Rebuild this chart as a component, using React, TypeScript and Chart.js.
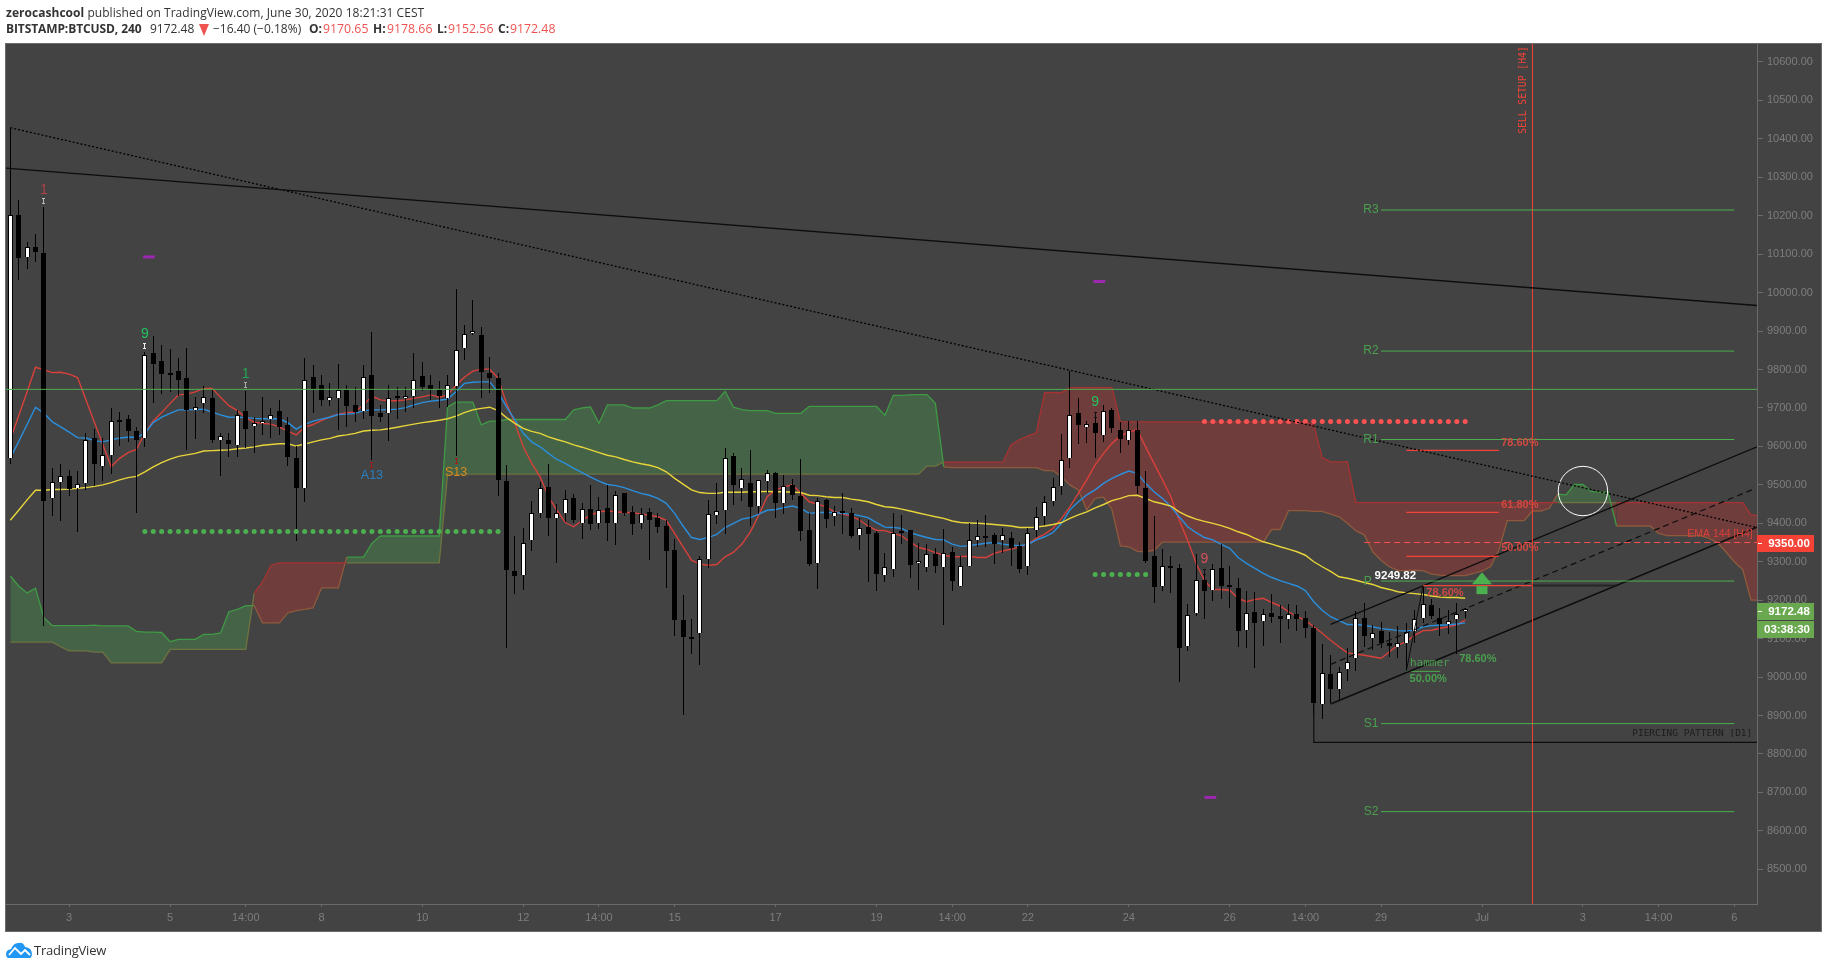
import React, { useEffect, useRef } from "react";
import { Chart, registerables } from "chart.js";

Chart.register(...registerables);

const opens = [
  9569,10202,10094,10119,10102,9465,9508,9522,9491,9504,
  9622,9550,9577,9668,9671,9639,9623,9843,9821,9790,
  9795,9777,9694,9712,9727,9616,9618,9603,9691,9652,
  9662,9672,9691,9655,9569,9493,9780,9759,9721,9727,
  9747,9708,9693,9785,9687,9686,9730,9725,9730,9782,
  9759,9746,9727,9756,9855,9894,9890,9792,9778,9510,
  9276,9265,9356,9426,9494,9415,9428,9466,9402,9437,
  9400,9440,9402,9479,9429,9402,9429,9415,9393,9330,
  9148,9103,9114,9306,9421,9435,9574,9493,9504,9444,
  9509,9531,9454,9500,9471,9383,9296,9460,9420,9432,
  9427,9370,9390,9374,9265,9280,9377,9382,9296,9287,
  9320,9287,9325,9238,9290,9356,9364,9369,9356,9361,
  9341,9288,9382,9418,9457,9497,9569,9686,9650,9660,
  9631,9694,9643,9616,9643,9491,9315,9236,9286,9285,
  9082,9166,9252,9226,9283,9237,9233,9122,9169,9145,
  9166,9159,9152,9163,9153,9127,8929,9008,8970,9020,
  9049,9155,9101,9120,9089,9079,9088,9120,9155,9187,
  9155,9137,9150,9170.65,
];
const closes = [
  10202,10091,10118,10107,9459,9508,9524,9490,9503,9616,
  9555,9577,9667,9664,9641,9617,9839,9815,9789,9786,
  9773,9696,9703,9729,9617,9626,9606,9682,9646,9662,
  9667,9682,9651,9573,9493,9774,9749,9721,9729,9748,
  9705,9690,9781,9680,9677,9727,9727,9732,9774,9755,
  9750,9730,9760,9852,9893,9899,9794,9779,9513,9279,
  9264,9348,9426,9491,9415,9428,9462,9408,9436,9399,
  9434,9402,9473,9428,9399,9423,9408,9391,9329,9149,
  9105,9100,9306,9423,9433,9569,9500,9514,9443,9512,
  9530,9454,9498,9474,9381,9295,9459,9411,9430,9427,
  9367,9389,9373,9269,9287,9375,9375,9292,9303,9319,
  9290,9324,9251,9290,9356,9368,9362,9347,9369,9335,
  9282,9376,9417,9456,9495,9566,9681,9655,9659,9636,
  9693,9649,9620,9644,9498,9302,9235,9290,9284,9076,
  9162,9252,9225,9282,9238,9234,9121,9168,9141,9165,
  9157,9152,9163,9152,9128,8933,9010,8970,9014,9040,
  9154,9108,9115,9089,9082,9088,9118,9150,9189,9160,
  9138,9145,9163,9172.48,
];
const highs = [
  10429,10241,10132,10153,10224,9543,9554,9540,9536,9634,
  9645,9623,9699,9689,9681,9651,9845,9887,9865,9853,
  9829,9855,9728,9758,9747,9635,9634,9696,9745,9676,
  9728,9701,9721,9677,9601,9829,9811,9785,9764,9814,
  9759,9754,9811,9897,9708,9760,9754,9755,9842,9819,
  9786,9769,9786,10009,9916,9981,9910,9832,9790,9552,
  9367,9387,9457,9507,9554,9450,9486,9476,9454,9500,
  9468,9500,9485,9479,9445,9441,9439,9427,9408,9358,
  9213,9150,9315,9461,9504,9595,9582,9545,9592,9512,
  9539,9534,9526,9514,9567,9426,9465,9462,9445,9478,
  9439,9415,9408,9381,9322,9428,9421,9382,9348,9346,
  9335,9384,9339,9315,9402,9408,9421,9376,9387,9377,
  9352,9387,9443,9472,9517,9632,9797,9725,9667,9677,
  9708,9699,9664,9667,9667,9536,9419,9332,9315,9293,
  9190,9319,9280,9293,9345,9289,9259,9224,9222,9176,
  9216,9187,9190,9187,9172,9135,9086,9057,9027,9075,
  9172,9192,9135,9144,9118,9133,9140,9174,9238,9202,
  9179,9174,9192,9178.66,
];
const lows = [
  9554,10033,10062,10080,9133,9420,9407,9472,9378,9486,
  9498,9510,9529,9602,9612,9428,9599,9713,9736,9742,
  9731,9591,9620,9688,9610,9524,9573,9573,9596,9584,
  9630,9623,9630,9550,9355,9456,9688,9706,9705,9643,
  9651,9663,9672,9565,9663,9615,9672,9690,9700,9745,
  9721,9701,9703,9575,9825,9890,9727,9740,9472,9076,
  9217,9226,9329,9415,9368,9298,9404,9402,9359,9382,
  9385,9355,9343,9420,9369,9385,9304,9376,9232,9107,
  8902,9061,9032,9285,9398,9373,9448,9459,9394,9424,
  9480,9415,9425,9461,9355,9290,9230,9389,9393,9373,
  9362,9330,9247,9225,9248,9260,9347,9258,9227,9274,
  9270,9136,9225,9235,9287,9339,9339,9293,9322,9290,
  9270,9265,9365,9395,9446,9474,9545,9606,9610,9569,
  9611,9636,9584,9604,9476,9296,9193,9225,9219,8988,
  9069,9159,9151,9199,9203,9180,9079,9076,9024,9082,
  9140,9089,9124,9120,9101,8900,8892,8932,8938,8990,
  9017,9077,9070,9075,9053,9050,9016,9089,9141,9151,
  9107,9112,9059,9152.56,
];
const emaRed = [
  9617,9680,9742,9806,9799,9792,9793,9788,9779,9721,
  9663,9605,9547,9569,9584,9592,9634,9666,9688,9712,
  9734,9736,9742,9751,9751,9728,9706,9693,9675,9663,
  9660,9658,9651,9640,9630,9650,9657,9667,9677,9684,
  9688,9690,9708,9731,9721,9719,9719,9721,9725,9729,
  9734,9728,9734,9759,9780,9796,9801,9801,9778,9712,
  9660,9599,9556,9521,9469,9434,9402,9391,9408,9421,
  9430,9432,9430,9428,9428,9424,9421,9417,9408,9374,
  9339,9304,9294,9291,9293,9313,9325,9346,9378,9421,
  9469,9487,9495,9500,9478,9456,9450,9443,9430,9424,
  9419,9408,9393,9382,9381,9374,9367,9352,9337,9332,
  9324,9317,9313,9313,9315,9311,9311,9322,9328,9333,
  9339,9346,9361,9372,9387,9413,9443,9478,9513,9552,
  9582,9608,9627,9638,9643,9599,9556,9513,9469,9408,
  9356,9296,9251,9228,9228,9226,9205,9196,9202,9205,
  9194,9185,9170,9157,9148,9131,9114,9096,9079,9063,
  9060,9057,9053,9049,9066,9083,9092,9109,9121,9122,
  9127,9131,9136,9148,
];
const emaBlue = [
  9569,9613,9657,9702,9686,9664,9651,9637,9623,9622,
  9615,9612,9617,9622,9624,9624,9634,9662,9676,9686,
  9695,9695,9696,9697,9689,9682,9676,9676,9675,9673,
  9672,9672,9672,9662,9645,9657,9666,9671,9676,9683,
  9684,9686,9693,9695,9695,9696,9697,9701,9708,9714,
  9718,9720,9723,9742,9764,9767,9768,9768,9742,9703,
  9669,9634,9612,9599,9582,9566,9556,9543,9532,9520,
  9510,9501,9498,9493,9485,9478,9473,9465,9452,9426,
  9393,9363,9358,9363,9371,9389,9400,9411,9415,9424,
  9434,9436,9441,9445,9439,9426,9428,9428,9428,9426,
  9424,9420,9415,9402,9390,9389,9387,9376,9369,9363,
  9358,9357,9346,9340,9342,9345,9348,9350,9346,9343,
  9342,9345,9357,9365,9376,9400,9435,9456,9474,9487,
  9504,9517,9527,9536,9530,9504,9482,9465,9443,9417,
  9391,9376,9363,9357,9345,9335,9311,9296,9283,9270,
  9259,9251,9244,9237,9225,9196,9174,9157,9147,9137,
  9137,9135,9131,9126,9124,9121,9120,9122,9131,9134,
  9135,9136,9138,9141,
];
const emaYellow = [
  9408,9434,9461,9486,9486,9488,9488,9489,9491,9493,
  9496,9500,9506,9513,9519,9522,9534,9547,9558,9567,
  9574,9578,9582,9588,9589,9590,9591,9594,9596,9599,
  9603,9605,9607,9607,9601,9606,9612,9617,9621,9627,
  9630,9634,9640,9642,9643,9646,9650,9654,9658,9662,
  9665,9668,9672,9679,9688,9695,9699,9702,9693,9675,
  9660,9647,9639,9634,9625,9618,9612,9604,9598,9591,
  9584,9577,9573,9566,9560,9555,9551,9545,9534,9517,
  9502,9487,9480,9478,9478,9481,9481,9481,9482,9482,
  9483,9482,9482,9481,9480,9473,9472,9469,9467,9467,
  9463,9460,9456,9449,9443,9441,9437,9432,9427,9422,
  9417,9413,9406,9402,9401,9400,9399,9397,9395,9393,
  9389,9389,9390,9393,9397,9402,9413,9422,9430,9440,
  9449,9459,9465,9472,9473,9465,9456,9451,9445,9430,
  9419,9411,9405,9400,9394,9387,9378,9371,9361,9352,
  9346,9339,9333,9326,9317,9300,9287,9275,9261,9257,
  9252,9246,9241,9233,9228,9222,9219,9217,9215,9211,
  9208,9207,9207,9205,
];
const spanA = [
  9263,9237,9219,9231,9154,9134,9134,9134,9134,9134,
  9135,9133,9133,9133,9133,9119,9117,9117,9116,9092,
  9098,9098,9098,9111,9111,9115,9170,9176,9186,9186,
  9141,9141,9141,9167,9173,9176,9180,9232,9232,9232,
  9312,9312,9312,9348,9367,9367,9367,9367,9367,9367,
  9367,9367,9703,9715,9715,9715,9656,9666,9666,9670,
  9670,9670,9670,9670,9670,9670,9670,9695,9700,9703,
  9660,9708,9708,9708,9700,9700,9700,9708,9719,9719,
  9719,9719,9719,9719,9719,9743,9702,9696,9693,9693,
  9693,9686,9686,9686,9686,9704,9704,9704,9704,9704,
  9704,9704,9704,9704,9681,9733,9733,9734,9735,9735,
  9712,9547,9545,9545,9545,9545,9545,9545,9545,9545,
  9545,9545,9545,9537,9537,9521,9500,9487,9435,9465,
  9468,9436,9341,9339,9327,9326,9330,9351,9351,9351,
  9351,9351,9351,9351,9351,9351,9351,9351,9351,9351,
  9384,9384,9433,9433,9433,9431,9431,9424,9417,9400,
  9381,9370,9326,9304,9287,9277,9277,9278,9277,9268,
  9265,9264,9264,9264,9270,9276,9287,9330,9407,9407,
  9407,9432,9432,9439,9476,9474,9501,9501,9483,9481,
  9481,9393,9393,9393,9393,9393,9374,9368,9368,9368,
  9368,9368,9361,9350,9326,9300,9280,9200,9200,
];
const spanB = [
  9091,9091,9091,9091,9091,9091,9079,9068,9068,9068,
  9065,9065,9037,9037,9037,9037,9037,9037,9037,9072,
  9072,9072,9072,9072,9072,9072,9072,9072,9072,9218,
  9248,9291,9297,9297,9297,9297,9297,9297,9297,9297,
  9297,9297,9297,9297,9297,9297,9297,9297,9297,9297,
  9297,9297,9528,9528,9528,9528,9528,9528,9528,9528,
  9528,9528,9528,9528,9528,9528,9528,9528,9528,9528,
  9528,9528,9528,9528,9528,9528,9528,9528,9528,9528,
  9528,9528,9528,9528,9528,9528,9528,9528,9528,9528,
  9528,9528,9528,9528,9528,9528,9528,9528,9528,9528,
  9528,9528,9528,9528,9528,9528,9528,9528,9528,9549,
  9549,9559,9559,9559,9559,9559,9559,9559,9559,9604,
  9618,9627,9636,9740,9740,9740,9753,9753,9753,9753,
  9753,9753,9664,9664,9664,9664,9664,9664,9664,9664,
  9664,9664,9664,9664,9664,9664,9664,9664,9664,9664,
  9664,9664,9664,9664,9664,9656,9571,9560,9560,9560,
  9454,9454,9454,9454,9454,9454,9454,9454,9454,9454,
  9454,9454,9454,9454,9454,9454,9454,9454,9454,9454,
  9454,9454,9454,9454,9454,9454,9454,9454,9454,9454,
  9454,9454,9454,9454,9454,9454,9454,9454,9454,9454,
  9454,9454,9454,9454,9454,9454,9454,9422,9420,
];
const priceTicks = [8500,8600,8700,8800,8900,9000,9100,9200,9300,9400,9500,9600,9700,9800,9900,10000,10100,10200,10300,10400,10500,10600];
const timeTickIndex = [7,19,28,37,49,61,70,79,91,103,112,121,133,145,154,163,175,187,196,205];
const timeTickLabels = ["3","5","14:00","8","10","12","14:00","15","17","19","14:00","22","24","26","14:00","29","Jul","3","14:00","6"];

const X_MIN = -0.51;
const X_MAX = 207.7;
const pivotLevels = [10215,9848,9618,9249.82,8879,8650];
const fibLevels = [9590,9428.5,9314];
const greenDotsA = { from: 16, to: 58, price: 9379 };
const greenDotsB = { from: 129, to: 135, price: 9267 };
const redDots = { from: 142, to: 173, price: 9665 };
const purpleDashes = [[16.5,10093],[129.5,10029],[142.7,8687]];

const labels: any[] = [
  ["1",4,10267,"#b0424a","14px 'Liberation Sans'"],
  ["9",16,9892,"#22c35e","14px 'Liberation Sans'"],
  ["1",28,9788,"#22a854","14px 'Liberation Sans'"],
  ["A13",43,9523,"#2a7fc0","12.5px 'Liberation Sans'"],
  ["S13",53,9533,"#d88a1c","12.5px 'Liberation Sans'"],
  ["9",129,9716,"#22c35e","14px 'Liberation Sans'"],
  ["9",142,9307,"#d9505a","14px 'Liberation Sans'"],
  ["R3",161.8,10215,"#4aa04e","12px 'Liberation Sans'"],
  ["R2",161.8,9848,"#4aa04e","12px 'Liberation Sans'"],
  ["R1",161.8,9617,"#4aa04e","12px 'Liberation Sans'"],
  ["P",161.4,9248,"#4aa04e","12px 'Liberation Sans'"],
  ["S1",161.8,8878,"#4aa04e","12px 'Liberation Sans'"],
  ["S2",161.8,8650,"#4aa04e","12px 'Liberation Sans'"],
  ["9249.82",164.7,9264,"#ffffff","bold 11.5px 'Liberation Sans'"],
  ["78.60%",179.5,9610,"#d04a42","bold 11px 'Liberation Sans'"],
  ["61.80%",179.5,9447.5,"#d04a42","bold 11px 'Liberation Sans'"],
  ["50.00%",179.5,9336,"#d04a42","bold 11px 'Liberation Sans'"],
  ["78.60%",170.6,9218,"#d04a42","bold 11px 'Liberation Sans'"],
  ["hammer",168.8,9037,"#4aa04e","11px 'DejaVu Sans Mono'"],
  ["50.00%",168.6,8995,"#4aa04e","bold 11px 'Liberation Sans'"],
  ["78.60%",174.5,9047,"#4aa04e","bold 11px 'Liberation Sans'"],
  ["EMA 144 [H4]",203.3,9373,"#d9403a","10.5px 'Liberation Sans'"],
  ["PIERCING PATTERN [D1]",200,8854,"#1c1c1c","9.5px 'DejaVu Sans Mono'"],
];
const marks: any[] = [
  [4,10238,"#bbbbbb"],[16,9861,"#eeeeee"],[28,9760,"#aaaaaa"],[43,9552,"#a01c1c"],
  [53,9562,"#a01c1c"],[129,9682,"#111111"],[142,9273,"#111111"],
];
const priceBoxes: any[] = [["9350.00",9350,"#f44336"],["9172.48",9172.48,"#6aa84f"]];
const countdown = "03:38:30";

const pts = (arr: number[]) => arr.map((y, x) => ({ x, y }));
const seg = (points: number[][], color: string, width = 1, dash: number[] = []) => ({
  type: "line",
  data: points.map(([x, y]) => ({ x, y })),
  borderColor: color,
  borderWidth: width,
  borderDash: dash,
  pointRadius: 0,
  tension: 0,
  fill: false,
  order: 1,
});
const dots = (d: any, color: string) => {
  const data: any[] = [];
  for (let x = d.from; x <= d.to; x++) data.push({ x, y: d.price });
  return {
    type: "line", data, showLine: false, pointRadius: 2.5, pointBorderWidth: 0,
    pointBackgroundColor: color, fill: false, order: 1,
  };
};
const ema = (arr: number[], color: string) => ({
  type: "line", data: pts(arr), borderColor: color, borderWidth: 1.4, pointRadius: 0, tension: 0, fill: false, order: 50,
});

const framePlugin = {
  id: "frame",
  beforeDraw(chart: any) {
    const { ctx } = chart;
    ctx.save();
    ctx.fillStyle = "#434343";
    ctx.fillRect(6, 44, 1816, 887);
    ctx.strokeStyle = "#6b6b6b";
    ctx.lineWidth = 1;
    ctx.strokeRect(5.5, 43.5, 1816, 888);
    ctx.restore();
  },
  beforeDatasetsDraw(chart: any) {
    chart.data.datasets.forEach((ds: any, i: number) => {
      if (!ds.candle) return;
      chart.getDatasetMeta(i).data.forEach((el: any) => {
        el.x = Math.floor(el.x) + 0.5;
        el.y = Math.round(el.y);
        el.base = Math.round(el.base);
      });
    });
  },
  afterDatasetsDraw(chart: any) {
    const { ctx, scales: { x, y } } = chart;
    ctx.save();
    ctx.textAlign = "center";
    ctx.textBaseline = "middle";
    labels.forEach(([t, i, p, c, f]) => {
      ctx.font = f;
      ctx.fillStyle = c;
      ctx.fillText(t, x.getPixelForValue(i), y.getPixelForValue(p));
    });
    marks.forEach(([i, p, c]) => {
      const px = Math.floor(x.getPixelForValue(i)) + 0.5;
      const py = Math.round(y.getPixelForValue(p));
      ctx.strokeStyle = c;
      ctx.lineWidth = 1;
      ctx.beginPath();
      ctx.moveTo(px, py - 3); ctx.lineTo(px, py + 3);
      ctx.moveTo(px - 1.5, py - 2.5); ctx.lineTo(px + 1.5, py - 2.5);
      ctx.moveTo(px - 1.5, py + 2.5); ctx.lineTo(px + 1.5, py + 2.5);
      ctx.stroke();
    });
    ctx.save();
    ctx.translate(x.getPixelForValue(179.9), y.getPixelForValue(10527));
    ctx.rotate(-Math.PI / 2);
    ctx.font = "9.7px 'DejaVu Sans Mono'";
    ctx.fillStyle = "#f44336";
    ctx.fillText("SELL SETUP [H4]", 0, 0);
    ctx.restore();
    const ax = x.getPixelForValue(175);
    const ay = y.getPixelForValue(9273);
    ctx.fillStyle = "#4caf50";
    ctx.beginPath();
    ctx.moveTo(ax, ay); ctx.lineTo(ax + 10, ay + 12); ctx.lineTo(ax - 10, ay + 12); ctx.closePath();
    ctx.fill();
    ctx.fillRect(ax - 5.5, ay + 14, 11, 8);
    ctx.restore();
  },
  afterDraw(chart: any) {
    const { ctx, scales: { y } } = chart;
    ctx.save();
    ctx.textAlign = "center";
    ctx.textBaseline = "middle";
    ctx.font = "bold 11.5px 'Liberation Sans'";
    priceBoxes.forEach(([t, p, c]) => {
      const py = Math.round(y.getPixelForValue(p));
      ctx.fillStyle = c;
      ctx.fillRect(1757, py - 8, 57, 17);
      ctx.fillStyle = "#ffffff";
      ctx.fillText(t, 1789, py + 0.5);
      ctx.fillRect(1758, py, 4, 1);
      if (t === "9172.48") {
        ctx.fillStyle = c;
        ctx.fillRect(1757, py + 10, 57, 17);
        ctx.fillStyle = "#ffffff";
        ctx.fillText(countdown, 1787, py + 18.5);
      }
    });
    ctx.restore();
  },
};

export default function App() {
  const ref = useRef<HTMLCanvasElement>(null);
  useEffect(() => {
    const isUp = (c: any) => spanA[c.p0DataIndex] >= spanB[c.p0DataIndex];
    const datasets: any[] = [
      {
        type: "line", data: pts(spanA), pointRadius: 0, tension: 0, borderWidth: 1.3, borderColor: "#3f9a45",
        segment: { borderColor: (c: any) => (isUp(c) ? "#3f9a45" : "#8f5a3c") },
        fill: { target: 1, above: "rgba(76,175,80,0.3)", below: "rgba(220,50,50,0.3)" },
        order: 100,
      },
      {
        type: "line", data: pts(spanB), pointRadius: 0, tension: 0, borderWidth: 1.3, borderColor: "#a83232",
        segment: { borderColor: (c: any) => (isUp(c) ? "#6f7440" : "#a83232") },
        fill: false, order: 99,
      },
      ema(emaYellow, "#e8d53a"),
      ema(emaBlue, "#2a8fdd"),
      ema(emaRed, "#d8403a"),
      {
        type: "bar", candle: true, data: opens.map((_, i) => ({ x: i, y: [lows[i], highs[i]] })),
        backgroundColor: "#000000", barThickness: 1, grouped: false, inflateAmount: 0, borderWidth: 0, order: 40,
      },
      {
        type: "bar", candle: true, data: opens.map((o, i) => ({ x: i, y: [o, closes[i]] })),
        backgroundColor: opens.map((o, i) => (closes[i] >= o ? "#ffffff" : "#000000")),
        borderColor: "#000000", borderWidth: 1, barThickness: 5, grouped: false, inflateAmount: 0, minBarLength: 2, order: 39,
      },
      seg([[X_MIN, 9748.5], [X_MAX, 9748.5]], "#4caf50"),
      seg([[X_MIN, 10324], [X_MAX, 9966.6]], "#0d0d0d", 1.4),
      seg([[0, 10429], [X_MAX, 9389]], "#000000", 1.3, [2, 2]),
      ...pivotLevels.map((p) => seg([[163, p], [205, p]], "#4caf50")),
      ...fibLevels.map((p) => seg([[166, p], [177, p]], "#f44336", 1.2)),
      seg([[168, 9238], [181, 9238]], "#f44336", 1.2),
      seg([[181, 9238], [191, 9238]], "rgba(25,25,25,0.7)", 2),
      seg([[161, 9350], [X_MAX, 9350]], "#ff5252", 1, [6, 4]),
      seg([[181, 8409], [181, 10647]], "#f44336"),
      seg([[157, 8930], [X_MAX, 9390]], "#0d0d0d", 1.5),
      seg([[157, 9137], [X_MAX, 9599]], "#0d0d0d", 1.3),
      seg([[157, 9033], [207.3, 9489]], "#0d0d0d", 1.2, [6, 4]),
      seg([[166, 9016], [168, 9238]], "#0d0d0d", 1),
      seg([[166, 9015], [170, 9015]], "#4caf50"),
      seg([[155, 8933], [155, 8830], [X_MAX, 8830]], "#0d0d0d", 1.2),
      ...purpleDashes.map(([i, p]) => seg([[i - 0.7, p], [i + 0.7, p]], "#9c27b0", 3)),
      dots(greenDotsA, "#4caf50"),
      dots(greenDotsB, "#4caf50"),
      dots(redDots, "#ff5252"),
      {
        type: "line", data: [{ x: 187, y: 9484 }], showLine: false, pointRadius: 24.7, pointBorderWidth: 1,
        pointBorderColor: "#ffffff", pointBackgroundColor: "transparent", fill: false, order: 1,
      },
    ];
    const chart = new Chart(ref.current as HTMLCanvasElement, {
      type: "line",
      data: { datasets },
      plugins: [framePlugin],
      options: {
        animation: false, responsive: false, devicePixelRatio: 1, events: [],
        layout: { autoPadding: false, padding: { left: 6, right: 6, top: 44, bottom: 37 } },
        plugins: { legend: { display: false }, tooltip: { enabled: false }, title: { display: false } },
        scales: {
          x: {
            type: "linear", min: X_MIN, max: X_MAX, offset: false,
            afterBuildTicks: (s: any) => { s.ticks = timeTickIndex.map((value) => ({ value })); },
            afterFit: (s: any) => { s.height = 27; s.paddingLeft = 0; s.paddingRight = 0; },
            grid: { offset: false, drawOnChartArea: false, drawTicks: true, tickLength: 3, tickColor: "#6b6b6b" },
            border: { color: "#6b6b6b", width: 1 },
            ticks: {
              autoSkip: false, maxRotation: 0, color: "#7e7e7e", padding: 4,
              font: { family: "'Liberation Sans'", size: 11 },
              callback: (v: any) => timeTickLabels[timeTickIndex.indexOf(v)],
            },
          },
          y: {
            type: "linear", position: "right", min: 8409.8, max: 10646.8,
            afterBuildTicks: (s: any) => { s.ticks = priceTicks.map((value) => ({ value })); },
            afterFit: (s: any) => { s.width = 65; s.paddingTop = 0; s.paddingBottom = 0; },
            grid: { drawOnChartArea: false, drawTicks: true, tickLength: 6, tickColor: "#6b6b6b" },
            border: { color: "#6b6b6b", width: 1 },
            ticks: {
              autoSkip: false, color: "#7e7e7e", padding: 4,
              font: { family: "'Liberation Sans'", size: 11 },
              callback: (v: any) => Number(v).toFixed(2),
            },
          },
        },
      },
    } as any);
    return () => chart.destroy();
  }, []);

  const base: React.CSSProperties = {
    position: "absolute", fontFamily: "'Open Sans'", fontSize: 12, lineHeight: "16px",
    color: "#333", whiteSpace: "nowrap",
  };
  const red: React.CSSProperties = { ...base, top: 21, color: "#ef5350", fontSize: 12.3 };
  const dark: React.CSSProperties = { ...base, top: 21 };
  const strong: React.CSSProperties = { ...base, top: 21, fontWeight: 700 };
  return (
    <div style={{ position: "absolute", left: 0, top: 0, width: 1828, height: 968, background: "#fff", overflow: "hidden" }}>
      <canvas ref={ref} width={1828} height={968} style={{ display: "block", width: 1828, height: 968 }} />
      <div style={{ ...base, left: 6, top: 5, letterSpacing: "0.04px" }}>
        <b>zerocashcool</b> published on TradingView.com, June 30, 2020 18:21:31 CEST
      </div>
      <span style={{ ...strong, left: 6, letterSpacing: "-0.1px" }}>BITSTAMP:BTCUSD, 240</span>
      <span style={{ ...dark, left: 150 }}>9172.48</span>
      <svg width={10} height={12} style={{ position: "absolute", left: 199, top: 24 }}><path d="M0 0 H10 L5 12 Z" fill="#ef5350" /></svg>
      <span style={{ ...dark, left: 213 }}>−16.40 (−0.18%)</span>
      <span style={{ ...strong, left: 309 }}>O:</span><span style={{ ...red, left: 323 }}>9170.65</span>
      <span style={{ ...strong, left: 373 }}>H:</span><span style={{ ...red, left: 387 }}>9178.66</span>
      <span style={{ ...strong, left: 437 }}>L:</span><span style={{ ...red, left: 448 }}>9152.56</span>
      <span style={{ ...strong, left: 498 }}>C:</span><span style={{ ...red, left: 510 }}>9172.48</span>
      <svg width={26} height={16} viewBox="0 0 26 16" style={{ position: "absolute", left: 6, top: 942 }}>
        <path d="M2 16 Q0 15 0 12 Q0 8 5 7 Q8 0 13 1 Q17 0 19 5 Q26 6 26 12 Q26 15 24 16 Z" fill="#2196f3" />
        <polyline points="3,13 9,6 15,12 19,8 24,13" fill="none" stroke="#fff" strokeWidth={1.8} />
      </svg>
      <div style={{ ...base, left: 34, top: 942, fontSize: 13, letterSpacing: "-0.2px" }}>TradingView</div>
    </div>
  );
}
